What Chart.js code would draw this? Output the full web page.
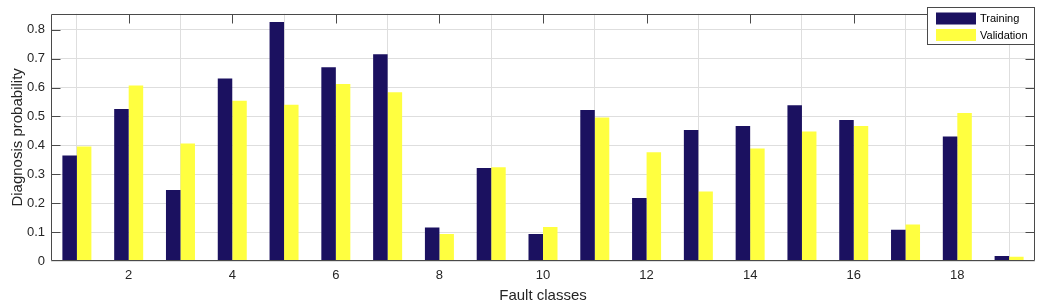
<!DOCTYPE html>
<html>
<head>
<meta charset="utf-8">
<script src="https://cdn.jsdelivr.net/npm/chart.js@4/dist/chart.umd.min.js"></script>
<style>
  html, body { margin: 0; padding: 0; background: #ffffff; }
  #wrap { width: 1043px; height: 305px; position: relative; }
</style>
</head>
<body>
<div id="wrap"><canvas id="c"></canvas></div>
<script>
// ---- data ----
const categories = [1, 2, 3, 4, 5, 6, 7, 8, 9, 10, 11, 12, 13, 14, 15, 16, 17, 18, 19];
const training   = [0.365, 0.526, 0.246, 0.631, 0.827, 0.670, 0.715, 0.116, 0.322, 0.093, 0.522, 0.218, 0.453, 0.467, 0.539, 0.488, 0.108, 0.431, 0.017];
const validation = [0.396, 0.607, 0.406, 0.554, 0.540, 0.612, 0.584, 0.093, 0.324, 0.118, 0.496, 0.376, 0.240, 0.389, 0.448, 0.467, 0.126, 0.512, 0.015];
const seriesNames = ['Training', 'Validation'];
const xTicks = [2, 4, 6, 8, 10, 12, 14, 16, 18];
const yTicks = [0, 0.1, 0.2, 0.3, 0.4, 0.5, 0.6, 0.7, 0.8];

const COL_TRAIN = '#1b1160';
const COL_VALID = '#ffff40';
const AXIS_COL = '#4a4a4a';
const TEXT_COL = '#262626';
const FONT = '"Liberation Sans", Arial, Helvetica, sans-serif';

const framePlugin = {
  id: 'frame',
  afterDatasetsDraw(chart) {
    const { ctx, chartArea: a, scales: { x, y } } = chart;
    const L = Math.round(a.left) + 0.5, R = Math.round(a.right) - 0.5;
    const T = Math.round(a.top) + 0.5, B = Math.round(a.bottom) - 0.5;
    ctx.save();
    ctx.strokeStyle = AXIS_COL;
    ctx.lineWidth = 1;
    ctx.beginPath();
    ctx.rect(L, T, R - L, B - T);
    ctx.stroke();
    const tl = 9;
    ctx.beginPath();
    yTicks.forEach(v => {
      const py = Math.round(y.getPixelForValue(v)) + 0.5;
      if (v <= 0) return;
      ctx.moveTo(L, py); ctx.lineTo(L + tl, py);
      ctx.moveTo(R, py); ctx.lineTo(R - tl, py);
    });
    xTicks.forEach(v => {
      const px = Math.round(x.getPixelForValue(v)) + 0.5;
      ctx.moveTo(px, T); ctx.lineTo(px, T + tl);
    });
    ctx.stroke();
    ctx.restore();
  },
  afterDraw(chart) {
    const { ctx, chartArea: a } = chart;
    const bx = 927.5, by = 7.5, bw = Math.round(a.right) - 0.5 - 927.5, bh = 37;
    ctx.save();
    ctx.fillStyle = '#ffffff';
    ctx.fillRect(bx, by, bw, bh);
    ctx.strokeStyle = AXIS_COL;
    ctx.lineWidth = 1;
    ctx.strokeRect(bx, by, bw, bh);
    const cols = [COL_TRAIN, COL_VALID];
    ctx.font = '11px ' + FONT;
    ctx.textBaseline = 'middle';
    ctx.textAlign = 'left';
    chart.data.datasets.forEach((ds, i) => {
      const sy = 12.5 + i * 16.5;
      ctx.fillStyle = cols[i];
      ctx.fillRect(936, sy, 40, 12);
      ctx.fillStyle = '#000000';
      ctx.fillText(ds.label, 980, sy + 6.5);
    });
    ctx.restore();
  }
};

new Chart(document.getElementById('c'), {
  type: 'bar',
  data: {
    labels: categories,
    datasets: [
      { label: seriesNames[0], data: training, backgroundColor: COL_TRAIN, borderWidth: 0 },
      { label: seriesNames[1], data: validation, backgroundColor: COL_VALID, borderWidth: 0 }
    ]
  },
  options: {
    responsive: true,
    maintainAspectRatio: false,
    animation: false,
    devicePixelRatio: 1,
    layout: { padding: { top: 7, right: 8, bottom: 0, left: 0 } },
    plugins: { legend: { display: false }, tooltip: { enabled: false } },
    datasets: { bar: { categoryPercentage: 0.56, barPercentage: 1.0 } },
    scales: {
      x: {
        type: 'linear',
        min: 0.5,
        max: 19.5,
        offset: false,
        afterBuildTicks(scale) { scale.ticks = xTicks.map(v => ({ value: v })); },
        afterFit(scale) { scale.height = 44; },
        grid: { color: '#dedede', lineWidth: 1, drawTicks: false },
        border: { display: false },
        ticks: {
          color: TEXT_COL, font: { family: FONT, size: 13 }, padding: 7,
          maxRotation: 0, autoSkip: false,
          callback: v => String(v)
        },
        title: {
          display: true, text: 'Fault classes', color: TEXT_COL,
          font: { family: FONT, size: 15 }, padding: { top: 0, bottom: 0 }
        }
      },
      y: {
        min: 0,
        max: 0.855,
        afterBuildTicks(scale) { scale.ticks = yTicks.map(v => ({ value: v })); },
        afterFit(scale) { scale.width = 51; },
        grid: { color: '#dedede', lineWidth: 1, drawTicks: false },
        border: { display: false },
        ticks: {
          color: TEXT_COL, font: { family: FONT, size: 13 }, padding: 6,
          callback: v => (v === 0 ? '0' : Number(v).toFixed(1))
        },
        title: {
          display: true, text: 'Diagnosis probability', color: TEXT_COL,
          font: { family: FONT, size: 15 }, padding: { top: 9, bottom: 0 }
        }
      }
    }
  },
  plugins: [framePlugin]
});
</script>
</body>
</html>
